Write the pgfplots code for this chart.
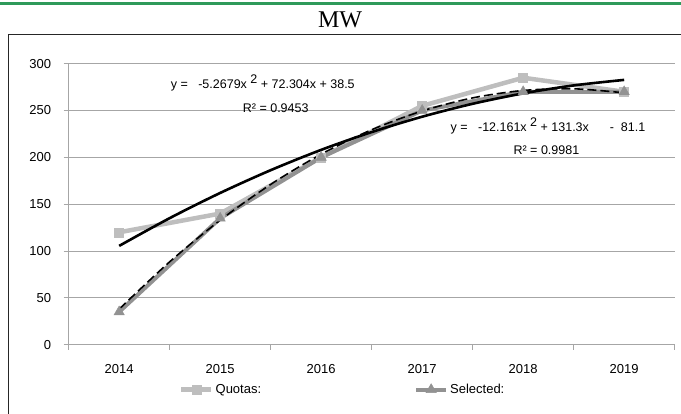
\documentclass[border=0pt]{standalone}
\usepackage{pgfplots}
\pgfplotsset{compat=1.18}
\usepackage{fontspec}
\setmainfont{Liberation Sans}
\newfontfamily\titlefont{Liberation Serif}
\definecolor{topgreen}{HTML}{2E9A5A}
\definecolor{quotagray}{HTML}{BEBEBE}
\definecolor{selgray}{HTML}{929292}
\definecolor{gridgray}{HTML}{A6A6A6}
\begin{document}
\begin{tikzpicture}[x=1pt,y=1pt]
\useasboundingbox (0,-414) rectangle (681,0);
\fill[topgreen] (0,-2.5) rectangle (681,-5);
\node[font=\titlefont\fontsize{24}{26}\selectfont] at (340,-20) {MW};
\draw[line width=1.2pt, black!85] (8.5,-414) -- (8.5,-34.5) -- (681,-34.5);
\begin{axis}[
  at={(68,-68)}, anchor=north west,
  scale only axis, width=606, height=281,
  xmin=0.5, xmax=6.5, ymin=0, ymax=300,
  xtick={1,2,3,4,5,6},
  xticklabels={2014,2015,2016,2017,2018,2019},
  minor xtick={0.5,1.5,2.5,3.5,4.5,5.5,6.5},
  ytick={0,50,100,150,200,250,300},
  major x tick style={draw=none},
  minor tick length=5pt, major tick length=5pt,
  tick align=outside,
  tick style={gridgray, line width=1pt},
  axis line style={gridgray, line width=1pt},
  axis x line*=bottom, axis y line*=left,
  ymajorgrids, grid style={gridgray, line width=1pt},
  tick label style={font=\fontsize{13}{15}\selectfont},
  /pgf/number format/assume math mode=true,
  xticklabel style={yshift=-11pt},
  yticklabel style={xshift=-9pt},
  clip=false,
  legend columns=2,
  legend style={draw=none, fill=none, at={(0.177,-0.16)}, anchor=west,
    font=\fontsize{13}{15}\selectfont, /tikz/every even column/.append style={column sep=151pt}},
  legend image code/.code={\draw[#1] (0pt,0pt) -- (30pt,0pt); \draw[#1, mark repeat=2, mark phase=2] plot coordinates {(0pt,0pt) (15pt,0pt) (30pt,0pt)};},
]
\addplot[quotagray, line width=4.5pt, mark=square*, mark size=4.5pt, mark options={solid, line width=0.4pt}] coordinates {(1,120) (2,140) (3,200) (4,255) (5,285) (6,270)};
\addlegendentry{Quotas:}
\addplot[selgray, line width=4pt, mark=triangle*, mark size=6pt, mark options={solid, line width=0.4pt}] coordinates {(1,35) (2,135) (3,200) (4,250) (5,270) (6,270)};
\addlegendentry{Selected:}
\addplot[black, line width=2.6pt, smooth, forget plot] coordinates {(1,105.5) (1.5,135.1) (2,162.0) (2.5,186.3) (3,208.0) (3.5,227.0) (4,243.4) (4.5,257.2) (5,268.3) (5.5,276.8) (6,282.7)};
\addplot[black, line width=1.6pt, dash pattern=on 9pt off 4pt, smooth, forget plot] coordinates {(1,38.0) (1.5,88.5) (2,132.9) (2.5,171.1) (3,203.4) (3.5,229.5) (4,249.5) (4.5,263.5) (5,271.4) (5.5,273.2) (6,268.9)};
\node[anchor=west, inner sep=0pt, font=\fontsize{12.5}{14}\selectfont] at (axis cs:1.51,279.5) {y =\ \ \ -5.2679x\ \raisebox{5pt}{2} + 72.304x + 38.5};
\node[font=\fontsize{12.5}{14}\selectfont] at (axis cs:2.55,253) {R² = 0.9453};
\node[anchor=west, inner sep=0pt, font=\fontsize{12.5}{14}\selectfont] at (axis cs:4.28,234) {y =\ \ \ -12.161x\ \raisebox{5pt}{2} + 131.3x\ \ \ \ \ \ -\ \ 81.1};
\node[font=\fontsize{12.5}{14}\selectfont] at (axis cs:5.23,208) {R² = 0.9981};
\end{axis}
\end{tikzpicture}
\end{document}
